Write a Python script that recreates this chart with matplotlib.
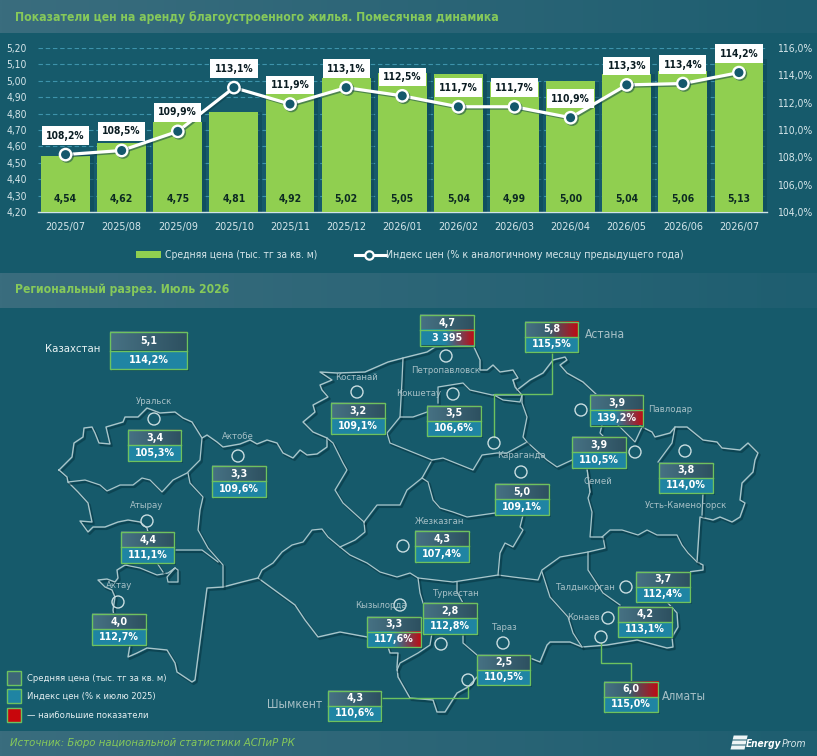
import numpy as np
import matplotlib
matplotlib.use("Agg")
import matplotlib.pyplot as plt
import matplotlib.patheffects as pe
from matplotlib.patches import Polygon, Rectangle, Circle
from matplotlib.lines import Line2D

W, H = 817, 756
plt.rcParams["font.family"] = ["DejaVu Sans"]
plt.rcParams["font.stretch"] = "condensed"

# ---------- data ----------
months = ["2025/07", "2025/08", "2025/09", "2025/10", "2025/11", "2025/12", "2026/01",
          "2026/02", "2026/03", "2026/04", "2026/05", "2026/06", "2026/07"]
price = [4.54, 4.62, 4.75, 4.81, 4.92, 5.02, 5.05, 5.04, 4.99, 5.00, 5.04, 5.06, 5.13]
index_yoy = [108.2, 108.5, 109.9, 113.1, 111.9, 113.1, 112.5, 111.7, 111.7, 110.9, 113.3, 113.4, 114.2]
left_ticks = [4.2, 4.3, 4.4, 4.5, 4.6, 4.7, 4.8, 4.9, 5.0, 5.1, 5.2]
right_ticks = [104, 106, 108, 110, 112, 114, 116]

region_price = ["5,1", "3,4", "3,3", "4,4", "4,0", "3,2", "4,7", "5,8", "3,5", "5,0", "3,9", "3,9",
                "3,8", "4,3", "3,3", "2,8", "2,5", "4,3", "3,7", "4,2", "6,0"]
region_index = ["114,2%", "105,3%", "109,6%", "111,1%", "112,7%", "109,1%", "3 395", "115,5%", "106,6%",
                "109,1%", "139,2%", "110,5%", "114,0%", "107,4%", "117,6%", "112,8%", "110,5%",
                "110,6%", "112,4%", "113,1%", "115,0%"]
# positions of the boxes on the map (left, top in px) and which cell is highlighted
box_left = [110, 128, 212.5, 121, 92.5, 331.5, 420.5, 525, 427.5, 495.5, 590, 572.5,
            659.5, 415.5, 367.5, 423.5, 477, 328, 636.5, 618.5, 604.5]
box_top = [332, 430, 466, 532, 614, 403, 315, 321.5, 405.5, 484, 395, 437,
           462.5, 531, 616.5, 603, 654.5, 690.5, 571.5, 606.5, 681.5]
hi_top = [7, 20]
hi_bottom = [6, 10, 14]

city_names = ["Уральск", "Актобе", "Атырау", "Актау", "Костанай", "Петропавловск", "Кокшетау", "Караганда",
              "Павлодар", "Семей", "Усть-Каменогорск", "Жезказган", "Кызылорда", "Туркестан", "Тараз",
              "Талдыкорган", "Конаев"]
city_x = [154, 238, 147, 119, 357, 446, 419, 521, 670, 598, 686, 440, 381, 456, 505, 586, 583]
city_y = [402, 436.5, 505, 586, 377, 370.5, 394, 456, 410, 481, 505, 521, 605, 593, 627, 587, 618]
big_names = ["Астана", "Шымкент", "Алматы"]
big_x = [605, 295, 684]
big_y = [335, 705, 697]
ring_x = [154, 238, 147, 118, 357, 446, 453, 494, 521, 581, 635, 685, 403, 400, 441, 503, 468, 626, 608, 601]
ring_y = [419, 456, 521, 602, 392, 356, 394, 443, 472, 410, 452, 451, 546, 605, 644, 643, 680, 587, 618, 637]

outer = [(59,470),(72,457),(74,443),(83,437),(84,428),(92,427),(95,433),(99,443),(110,444),(106,427),(123,422),
 (125,417),(138,417),(147,408),(160,413),(175,412),(183,418),(192,422),(202,438),(207,435),(217,442),(223,447),
 (240,444),(250,440),(257,444),(267,440),(277,443),(283,453),(293,458),(300,450),(307,455),(317,454),(327,447),
 (327,438),(313,432),(303,422),(315,412),(313,405),(328,397),(322,390),(320,385),(332,380),(320,372),(337,373),
 (365,372),(388,362),(403,358),(427,352),(435,347),(473,345),(480,360),(480,370),(487,370),(493,365),(500,372),
 (513,370),(518,378),(513,380),(517,390),(530,380),(543,373),(553,360),(565,357),(567,360),(560,365),(567,373),
 (583,382),(597,395),(620,410),(642,427),(652,432),(655,437),(670,433),(675,427),(687,427),(703,440),(717,442),
 (722,448),(740,450),(748,443),(758,453),(755,460),(753,472),(742,483),(740,500),(745,503),(740,517),(732,522),
 (720,517),(713,520),(700,517),(697,562),(703,565),(703,570),(688,572),(667,602),(677,613),(678,627),(672,637),
 (673,647),(667,648),(637,640),(607,645),(582,647),(570,642),(550,642),(547,645),(540,662),(530,658),(490,670),
 (477,677),(468,687),(457,693),(445,712),(437,712),(433,700),(410,698),(398,677),(397,667),(398,653),(390,653),
 (388,647),(367,637),(340,632),(318,637),(305,620),(295,605),(258,578),(242,582),(223,587),(207,588),(195,680),
 (192,682),(177,672),(175,663),(167,650),(147,648),(137,653),(128,657),(130,645),(118,640),(113,610),(115,597),
 (112,590),(105,587),(98,580),(107,579),(115,582),(118,578),(117,570),(125,565),(135,560),(150,540),(147,528),
 (140,522),(128,520),(118,522),(105,527),(93,527),(88,532),(80,521),(92,522),(88,503),(78,492),(68,482),(67,477),(59,470)]
inner = [
 [(68,482),(85,480),(100,485),(107,491),(120,485),(133,485),(142,478),(150,480),(162,492),(173,480),(187,473),(200,460),(202,438)],
 [(188,473),(190,483),(203,497),(200,510),(198,530),(208,548),(223,565),(223,587)],
 [(175,550),(185,550),(202,550),(218,562)],
 [(125,565),(140,568),(157,575),(168,573),(175,568),(178,570),(178,582),(168,582),(167,577),(175,568)],
 [(157,563),(163,572)],
 [(327,438),(333,443),(343,463),(347,470),(335,490),(343,503),(364,522)],
 [(258,578),(262,570),(273,563),(282,552),(292,545),(303,542),(312,530),(322,529),(328,537),(340,547),(355,540),(365,532),(364,522)],
 [(340,547),(350,555),(367,563),(380,572),(397,577),(410,573),(418,578),(453,582),(498,575),(513,577),(538,580),(542,570),(560,557),(588,552),(605,548),(603,537),(590,537),(592,512),(588,498),(590,492),(587,468)],
 [(364,522),(377,505),(400,505),(407,490),(422,478),(432,460)],
 [(422,478),(428,482),(433,500),(440,508),(453,512),(467,517),(495,513)],
 [(403,358),(402,380),(400,417),(387,433),(390,443),(432,460),(443,458),(473,470),(482,455),(497,453),(507,453),(527,442),(547,460),(557,467),(572,460)],
 [(400,417),(413,417),(427,412)],
 [(438,403),(438,387),(463,383),(470,390),(492,395),(520,395)],
 [(494,395),(503,400),(520,402),(522,395),(515,387),(513,380)],
 [(527,442),(523,437),(527,417),(522,403),(522,395)],
 [(523,515),(520,527),(523,530),(513,547),(505,543),(500,553),(498,575)],
 [(418,578),(420,593),(423,603)],
 [(432,633),(430,645),(418,653),(400,663),(397,670)],
 [(457,582),(457,592),(463,603)],
 [(463,633),(463,643),(477,655)],
 [(588,552),(588,570),(603,593),(620,605)],
 [(542,572),(550,597),(568,617),(573,633),(582,647)],
 [(602,537),(610,530),(622,530),(638,535),(647,530),(657,535),(677,535),(682,545),(688,553),(697,562)],
 [(675,427),(672,443),(658,462)],
 [(703,493),(702,515)],
 [(618,425),(635,442),(642,427)],
 [(602,425),(600,433),(604,437)],
 [(587,468),(590,492)],
]
connectors = [[(552,351.5),(552,394),(494,394),(494,437)],
              [(601,643),(601,663),(631,663),(631,681.5)],
              [(381.5,698),(468,698),(468,686)]]
legend_texts = ["Средняя цена (тыс. тг за кв. м)", "Индекс цен (% к июлю 2025)", "— наибольшие показатели"]

# ---------- colours ----------
BG = "#165a6b"
LIME = "#86c95a"
BAR = "#90cf50"
LINEC = "#a9c6cb"
TXT = "#d6e6ea"
GREY = "#a7c0c6"
BOXEDGE = "#6dc25f"
SLATE_A = np.array([0x47, 0x72, 0x84]) / 255
SLATE_B = np.array([0x2d, 0x50, 0x60]) / 255
TEAL = "#1f84a3"
RED = np.array([0xc4, 0x08, 0x10]) / 255

def px(s):
    return s * 0.72

fig = plt.figure(figsize=(W / 100, H / 100), dpi=100, facecolor=BG)
ov = fig.add_axes([0, 0, 1, 1], zorder=0)
ov.set_axis_off()
ov.set_facecolor(BG)

def hgrad(x0, y0, x1, y1, c0, c1, zorder=1):
    t = np.linspace(0, 1, 256)[None, :, None]
    im = np.clip(np.array(c0)[None, None, :] * (1 - t) + np.array(c1)[None, None, :] * t, 0, 1)
    ov.imshow(im, extent=(x0, x1, y1, y0), aspect="auto", zorder=zorder, interpolation="bilinear")

band_l = np.array([0x3a, 0x6d, 0x7e]) / 255
band_r = np.array([0x1e, 0x5e, 0x70]) / 255
for y0, y1 in [(0, 33), (273, 308), (731, 756)]:
    hgrad(0, y0, W, y1, band_l, band_r)

ov.text(15, 17, "Показатели цен на аренду благоустроенного жилья. Помесячная динамика",
        color=LIME, fontsize=px(12.1), fontweight="bold", va="center", zorder=5)
ov.text(15, 290, "Региональный разрез. Июль 2026", color=LIME, fontsize=px(12.1),
        fontweight="bold", va="center", zorder=5)
ov.text(10, 743, "Источник: Бюро национальной статистики АСПиР РК", color=LIME,
        fontsize=px(11.2), style="italic", va="center", zorder=5)

# ---------- map ----------
shadow = [pe.SimpleLineShadow(offset=(1.2, -1.4), shadow_color="#04303c", alpha=0.5, linewidth=1.6), pe.Normal()]
ov.plot(*zip(*outer), color=LINEC, lw=1.0, zorder=2, path_effects=shadow, solid_joinstyle="round")
for seg in inner:
    ov.plot(*zip(*seg), color=LINEC, lw=0.9, zorder=2, path_effects=shadow, solid_joinstyle="round")
for seg in connectors:
    ov.plot(*zip(*seg), color=BOXEDGE, lw=1.0, zorder=3, solid_joinstyle="miter")
for x, y in zip(ring_x, ring_y):
    ov.add_patch(Circle((x, y), 6.0, fill=False, ec="#c9dde0", lw=1.0, zorder=3))
for n, x, y in zip(city_names, city_x, city_y):
    ov.text(x, y, n, color=GREY, fontsize=px(9.5), ha="center", va="center", zorder=4)
for n, x, y in zip(big_names, big_x, big_y):
    ov.text(x, y, n, color=GREY, fontsize=px(12), ha="center", va="center", zorder=4)
ov.text(73, 349, "Казахстан", color="#e8f2f3", fontsize=px(11.2), ha="center", va="center", zorder=4)

# ---------- region boxes ----------
for i, (pv, iv, bx, by) in enumerate(zip(region_price, region_index, box_left, box_top)):
    w, h = (77, 37) if i == 0 else (53.5, 30.5)
    mid = by + h / 2
    ov.add_patch(Rectangle((bx + 2, by + 2), w, h, fc="#0a3a47", ec="none", alpha=0.5, zorder=4.5))
    if i in hi_top:
        hgrad(bx, by, bx + w * 0.45, mid, SLATE_A, SLATE_B * 0.6 + SLATE_A * 0.4, zorder=5)
        hgrad(bx + w * 0.45, by, bx + w, mid, SLATE_B * 0.6 + SLATE_A * 0.4, RED, zorder=5)
    else:
        hgrad(bx, by, bx + w, mid, SLATE_A, SLATE_B, zorder=5)
    if i in hi_bottom:
        c0 = np.array([0x1f, 0x84, 0xa3]) / 255
        hgrad(bx, mid, bx + w * 0.45, by + h, c0, c0, zorder=5)
        hgrad(bx + w * 0.45, mid, bx + w, by + h, c0, RED, zorder=5)
    else:
        ov.add_patch(Rectangle((bx, mid), w, h / 2, fc=TEAL, ec="none", zorder=5))
    ov.add_patch(Rectangle((bx, by), w, h, fill=False, ec=BOXEDGE, lw=1.0, zorder=6))
    ov.plot([bx, bx + w], [mid, mid], color=BOXEDGE, lw=1.0, zorder=6)
    ov.text(bx + w / 2, (by + mid) / 2, pv, color="white", fontsize=px(10.6), fontweight="bold",
            ha="center", va="center", zorder=7)
    ov.text(bx + w / 2, (mid + by + h) / 2, iv, color="white", fontsize=px(10.6), fontweight="bold",
            ha="center", va="center", zorder=7)

# ---------- bottom legend ----------
for (y0, fc), t, ty in zip([(671, "#3d6677"), (689, TEAL), (708, "#c8060c")], legend_texts, [678.5, 696.5, 716]):
    ov.add_patch(Rectangle((7.5, y0), 14, 14, fc=fc, ec=BOXEDGE, lw=1.0, zorder=5))
    ov.text(27, ty, t, color="#e6f0f2", fontsize=px(9.4), va="center", zorder=5)

# ---------- logo ----------
for yy in [735.5, 740.5, 745.5]:
    off = (750 - yy) * 0.22
    ov.add_patch(Polygon([(729.5 + off, yy + 4), (743.5 + off, yy + 4), (744.5 + off, yy), (730.5 + off, yy)],
                         closed=True, fc="#eef5f6", ec="none", zorder=5))
ov.text(746, 744, "Energy", color="white", fontsize=px(10), fontweight="bold", style="italic", va="center", zorder=5)
ov.text(782, 744, "Prom", color="#d8e6e9", fontsize=px(10.5), style="italic", va="center", zorder=5)

# ---------- chart legend ----------
ov.add_patch(Rectangle((136, 251), 25, 7, fc=BAR, ec="none", zorder=5))
ov.text(165, 254.5, "Средняя цена (тыс. тг за кв. м)", color=TXT, fontsize=px(10.3), va="center", zorder=5)
ov.add_line(Line2D([355, 386], [254.5, 254.5], color="white", lw=2.2, zorder=5))
ov.add_line(Line2D([369.5], [254.5], marker="o", ms=6, mfc=BG, mec="white", mew=1.6, zorder=6))
ov.text(386, 254.5, "Индекс цен (% к аналогичному месяцу предыдущего года)", color=TXT, fontsize=px(10.5),
        va="center", zorder=5)

ov.set_xlim(0, W)
ov.set_ylim(H, 0)

# ---------- bar + line chart ----------
L, R, T, B = 37.5, 767, 48, 212
ax = fig.add_axes([L / W, 1 - B / H, (R - L) / W, (B - T) / H], zorder=2)
ax.patch.set_alpha(0)
xs = np.arange(len(months))
ax.set_xlim(-0.5, len(months) - 0.5)
ax.set_ylim(left_ticks[0], left_ticks[-1])
ax.set_yticks(left_ticks)
ax.set_yticklabels([f"{v:.2f}".replace(".", ",") for v in left_ticks], color=TXT, fontsize=px(10.2))
ax.set_xticks(xs)
ax.set_xticklabels(months, color=TXT, fontsize=px(10.8))
ax.tick_params(axis="both", length=0)
ax.tick_params(axis="y", pad=7.5)
ax.tick_params(axis="x", pad=7)
for s in ["top", "left", "right"]:
    ax.spines[s].set_visible(False)
ax.spines["bottom"].set_color("#cfe3e6")
ax.spines["bottom"].set_linewidth(1.0)
ax.set_axisbelow(True)
ax.yaxis.grid(True, color="#3d93ab", lw=0.8, ls=(0, (4, 2.5)))
ax.bar(xs + 0.07, price, width=0.87, color="#0c4656", alpha=0.55, zorder=2)
ax.bar(xs, price, width=0.87, color=BAR, zorder=3)
for x, v in zip(xs, price):
    ax.text(x, 0.08, f"{v:.2f}".replace(".", ","), transform=ax.get_xaxis_transform(), ha="center", va="center",
            color="#0c2a22", fontsize=px(10.4), fontweight="bold", zorder=4)

ax2 = ax.twinx()
ax2.patch.set_alpha(0)
ax2.set_ylim(right_ticks[0], right_ticks[-1])
ax2.set_yticks(right_ticks)
ax2.set_yticklabels([f"{v:.1f}".replace(".", ",") + "%" for v in right_ticks], color=TXT, fontsize=px(10.4))
ax2.tick_params(axis="y", length=0, pad=7)
for s in ax2.spines.values():
    s.set_visible(False)
ax2.plot(xs, index_yoy, color="white", lw=2.3, marker="o", ms=8.2, mfc="#14586c", mec="white", mew=1.7, zorder=5,
         path_effects=[pe.SimpleLineShadow(offset=(1, -1), shadow_color="#0a3a47", alpha=0.5), pe.Normal()])
for x, v in zip(xs, index_yoy):
    ax2.annotate(f"{v:.1f}".replace(".", ",") + "%", (x, v), xytext=(0, 13.7), textcoords="offset points",
                 ha="center", va="center", color="#0a1c22", fontsize=px(10.2), fontweight="bold", zorder=6,
                 bbox=dict(boxstyle="square,pad=0.42", fc="white", ec="none"))

fig.savefig("out.png", dpi=100, facecolor=BG)
